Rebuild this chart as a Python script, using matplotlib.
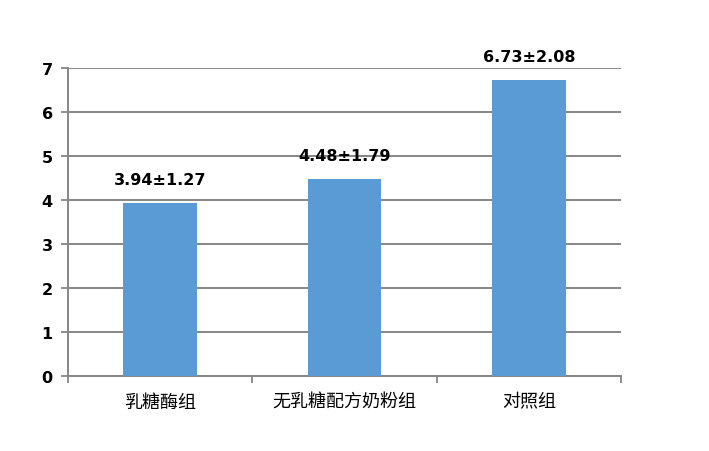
import matplotlib.pyplot as plt

plt.rcParams['font.family'] = ['Noto Sans CJK SC', 'DejaVu Sans']

groups = ['乳糖酶组', '无乳糖配方奶粉组', '对照组']
means = [3.94, 4.48, 6.73]
sds = [1.27, 1.79, 2.08]

fig = plt.figure(figsize=(7.09, 4.52), dpi=100)
ax = fig.add_axes([0.096, 0.166, 0.78, 0.681])

x = list(range(len(groups)))
ax.bar(x, means, width=0.4, color='#5B9BD5', zorder=3)

for xi, m, s in zip(x, means, sds):
    ax.text(xi, m + 0.36, f'{m:.2f}±{s:.2f}', ha='center', va='bottom',
            fontsize=11.5, fontweight='bold', family=['DejaVu Sans'])

ax.set_xlim(-0.5, len(groups) - 0.5)
ax.set_ylim(0, 7)
ax.set_yticks(range(0, 8))
ax.set_yticklabels([str(v) for v in range(0, 8)], fontsize=11.5, fontweight='bold',
                   family=['DejaVu Sans'])
ax.set_xticks(x)
ax.set_xticklabels(groups, fontsize=13)
ax.set_xticks([-0.5, 0.5, 1.5, 2.5], minor=True)
ax.tick_params(axis='x', which='major', length=0, pad=12)
ax.tick_params(axis='x', which='minor', length=5, width=1.3, color='#868686')
ax.tick_params(axis='y', length=5, width=1.3, color='#868686', pad=6)

ax.grid(True, axis='y', color='#868686', linewidth=1.4, zorder=0)
for side in ['top', 'right']:
    ax.spines[side].set_visible(False)
for side in ['left', 'bottom']:
    ax.spines[side].set_color('#868686')
    ax.spines[side].set_linewidth(1.4)

fig.savefig('out.png', dpi=100)
